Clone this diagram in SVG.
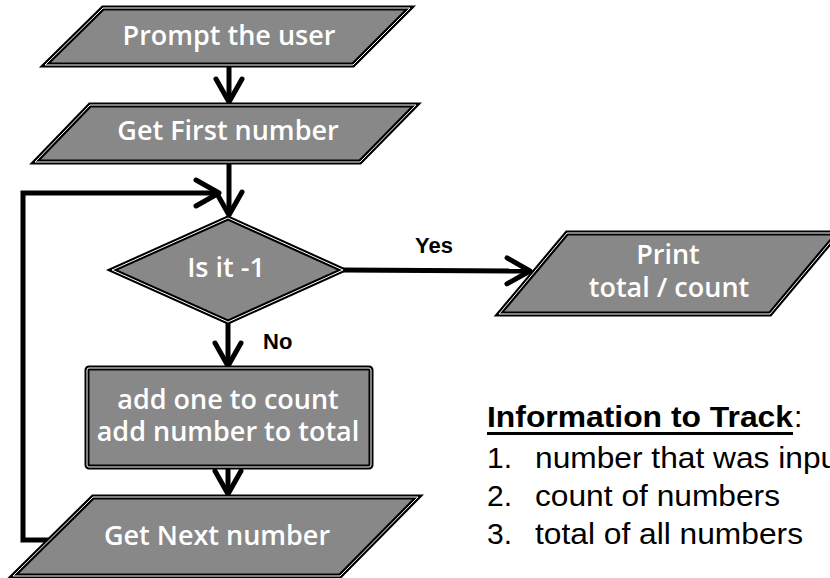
<svg xmlns="http://www.w3.org/2000/svg" width="830" height="578" viewBox="0 0 830 578">
<style>
.shape{fill:#888888;stroke:#000;stroke-width:5;stroke-linejoin:miter}
.inner{fill:none;stroke:#fff;stroke-width:1}
.lbl{font-family:"Open Sans","DejaVu Sans",sans-serif;font-size:27px;font-weight:600;fill:#fff;text-anchor:middle}
.edge{fill:none;stroke:#000;stroke-width:5;stroke-linejoin:miter}
.elbl{font-family:"Liberation Sans",Arial,sans-serif;font-weight:bold;font-size:22px;fill:#000}
.info{font-family:"Liberation Sans",Arial,sans-serif;font-size:30px;fill:#000}
</style>
<defs>
<marker id="arr" markerUnits="userSpaceOnUse" viewBox="-30 -20 36 40" markerWidth="36" markerHeight="40" refX="0" refY="0" orient="auto" overflow="visible">
<path d="M -23 -13 L 0 0 L -23 13" fill="none" stroke="#000" stroke-width="5" stroke-linecap="round" stroke-linejoin="round"/>
</marker>
</defs>
<rect width="830" height="578" fill="#fff"/>

<g id="connectors">
<path class="edge" d="M229 65 L229 102" marker-end="url(#arr)"/>
<path class="edge" d="M229 162 L229 215" marker-end="url(#arr)"/>
<path class="edge" d="M53 540 L23 540 L23 193 L219 193" marker-end="url(#arr)"/>
<path class="edge" d="M343 270 L530 271" marker-end="url(#arr)"/>
<path class="edge" d="M228 322 L228 366" marker-end="url(#arr)"/>
<path class="edge" d="M228 467 L228 494" marker-end="url(#arr)"/>
<text class="elbl" x="415" y="253">Yes</text>
<text class="elbl" x="263" y="349">No</text>
</g>

<g id="prompt">
<polygon class="shape" points="103,8 410,8 353,65 45,65"/>
<polygon class="inner" points="103,8 410,8 353,65 45,65"/>
<text class="lbl" x="229" y="45">Prompt the user</text>
</g>

<g id="getFirst">
<polygon class="shape" points="90,105 416,105 360,162 35,162"/>
<polygon class="inner" points="90,105 416,105 360,162 35,162"/>
<text class="lbl" x="228" y="140">Get First number</text>
</g>

<g id="decision">
<polygon class="shape" points="228,218 343,270 228,322 112,270"/>
<polygon class="inner" points="228,218 343,270 228,322 112,270"/>
<text class="lbl" x="226" y="277">Is it -1</text>
</g>

<g id="process">
<rect class="shape" x="87" y="368" width="284" height="99" rx="2"/>
<rect class="inner" x="87" y="368" width="284" height="99" rx="2"/>
<text class="lbl" x="228" y="409"><tspan x="228" y="409">add one to count</tspan><tspan x="228" y="441">add number to total</tspan></text>
</g>

<g id="getNext">
<polygon class="shape" points="93,497 418,497 340,576 13,576"/>
<polygon class="inner" points="93,497 418,497 340,576 13,576"/>
<text class="lbl" x="217" y="545">Get Next number</text>
</g>

<g id="print">
<polygon class="shape" points="567,233 838,233 770,314 499,314"/>
<polygon class="inner" points="567,233 838,233 770,314 499,314"/>
<text class="lbl" x="668" y="264"><tspan x="668" y="264">Print</tspan><tspan x="669" y="297">total / count</tspan></text>
</g>

<g id="info">
<text class="info" x="487" y="427" font-weight="bold" font-size="28" textLength="306" lengthAdjust="spacingAndGlyphs">Information to Track</text>
<rect x="487" y="432" width="306" height="3" fill="#000"/>
<text class="info" x="794" y="427" font-size="28">:</text>
<text class="info" x="487" y="468">1.</text>
<text class="info" x="535" y="468" textLength="312" lengthAdjust="spacingAndGlyphs">number that was input</text>
<text class="info" x="487" y="506">2.</text>
<text class="info" x="535" y="506" textLength="245" lengthAdjust="spacingAndGlyphs">count of numbers</text>
<text class="info" x="487" y="544">3.</text>
<text class="info" x="535" y="544" textLength="268" lengthAdjust="spacingAndGlyphs">total of all numbers</text>
</g>
</svg>
